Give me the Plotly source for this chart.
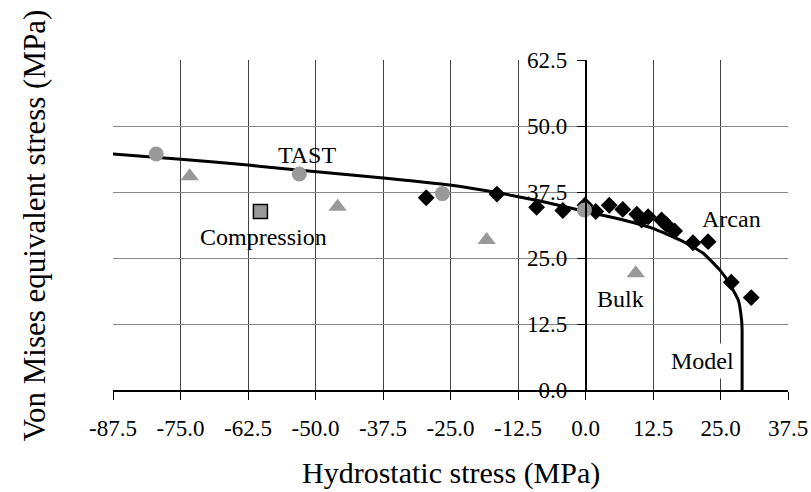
import plotly.graph_objects as go

FONT = "Liberation Serif"

# Model (yield surface) curve
model_x = [-88.9, -75.0, -62.5, -53.8, -39.9, -24.8, -16.4, -8.0, 0.0, 7.0, 12.5, 18.1, 21.8, 24.9, 26.7, 28.3, 28.9, 29.0, 29.0]
model_y = [44.8, 43.7, 42.6, 41.7, 40.4, 38.8, 37.4, 35.7, 33.8, 32.2, 30.6, 28.1, 25.9, 22.7, 20.1, 17.0, 13.3, 11.4, 0.0]

# Arcan tests
arcan_x = [-29.5, -16.4, -9.05, -4.2, -0.1, 1.9, 4.4, 6.9, 9.5, 10.4, 11.6, 14.1, 15.0, 16.5, 19.9, 22.7, 27.0, 30.7]
arcan_y = [36.4, 37.1, 34.6, 34.0, 35.0, 33.8, 35.0, 34.2, 33.3, 32.2, 32.8, 32.2, 31.3, 30.1, 27.9, 28.1, 20.4, 17.5]

# TAST tests
tast_x = [-79.5, -53.0, -26.5, -0.2]
tast_y = [44.7, 40.9, 37.2, 34.1]

# Bulk tests
bulk_x = [-73.3, -45.9, -18.3, 9.3]
bulk_y = [40.5, 34.7, 28.4, 22.1]

# Compression test
comp_x = [-60.2]
comp_y = [33.8]

# Axis ticks
x_ticks = [-87.5, -75.0, -62.5, -50.0, -37.5, -25.0, -12.5, 0.0, 12.5, 25.0, 37.5]
x_tick_labels = ["-87.5", "-75.0", "-62.5", "-50.0", "-37.5", "-25.0", "-12.5", "0.0", "12.5", "25.0", "37.5"]
y_ticks = [0.0, 12.5, 25.0, 37.5, 50.0, 62.5]
y_tick_labels = ["0.0", "12.5", "25.0", "37.5", "50.0", "62.5"]

# Series labels
label_text = ["TAST", "Compression", "Bulk", "Arcan", "Model"]
label_x = [-51.5, -59.6, 6.5, 27.0, 21.6]
label_y = [44.5, 28.9, 17.2, 32.3, 5.4]

GRAY = "#999999"

fig = go.Figure()
fig.add_trace(go.Scatter(x=model_x, y=model_y, mode="lines", name="Model",
                         line=dict(color="black", width=3, shape="spline", smoothing=0.4)))
fig.add_trace(go.Scatter(x=bulk_x, y=bulk_y, mode="markers", name="Bulk",
                         marker=dict(symbol="triangle-up", size=16, color=GRAY)))
fig.add_trace(go.Scatter(x=comp_x, y=comp_y, mode="markers", name="Compression",
                         marker=dict(symbol="square", size=14, color=GRAY,
                                     line=dict(color="black", width=1.5))))
fig.add_trace(go.Scatter(x=arcan_x, y=arcan_y, mode="markers", name="Arcan",
                         marker=dict(symbol="diamond", size=13, color="black")))
fig.add_trace(go.Scatter(x=tast_x, y=tast_y, mode="markers", name="TAST",
                         marker=dict(symbol="circle", size=15, color=GRAY)))

for t, lx, ly in zip(label_text, label_x, label_y):
    fig.add_annotation(x=lx, y=ly, text=t, showarrow=False,
                       font=dict(family=FONT, size=24, color="black"),
                       bgcolor="white" if t == "Model" else None,
                       borderpad=4 if t == "Model" else 1)

# Axis titles
fig.add_annotation(xref="paper", yref="paper", x=0.5, y=-0.252, text="Hydrostatic stress (MPa)",
                   showarrow=False, font=dict(family=FONT, size=30, color="black"),
                   xanchor="center", yanchor="middle", borderpad=0)
fig.add_annotation(xref="paper", yref="paper", x=-0.1165, y=0.5, text="Von Mises equivalent stress (MPa)",
                   showarrow=False, textangle=-90, font=dict(family=FONT, size=31, color="black"),
                   xanchor="center", yanchor="middle", borderpad=0)

fig.update_layout(
    width=811, height=492,
    margin=dict(l=113, r=23, t=60, b=102),
    paper_bgcolor="white", plot_bgcolor="white",
    showlegend=False,
    font=dict(family=FONT, size=22, color="black"),
    xaxis=dict(range=[-87.5, 37.5], tickvals=x_ticks, ticktext=x_tick_labels,
               showgrid=True, gridcolor="#444444", gridwidth=1,
               zeroline=False, showline=True, linecolor="black", linewidth=1.5,
               ticks="outside", ticklen=8, tickcolor="black",
               ticklabelstandoff=9,
               tickfont=dict(family=FONT, size=23, color="black"), automargin=False),
    yaxis=dict(range=[0, 62.5], tickvals=y_ticks, ticktext=y_tick_labels,
               showgrid=True, gridcolor="#888888", gridwidth=1,
               zeroline=False, showline=True, linecolor="black", linewidth=1.5,
               ticks="outside", ticklen=8, tickcolor="black",
               anchor="free", position=0.7, ticklabelstandoff=5,
               tickfont=dict(family=FONT, size=23, color="black"), automargin=False),
)

fig.write_html("out.html")
